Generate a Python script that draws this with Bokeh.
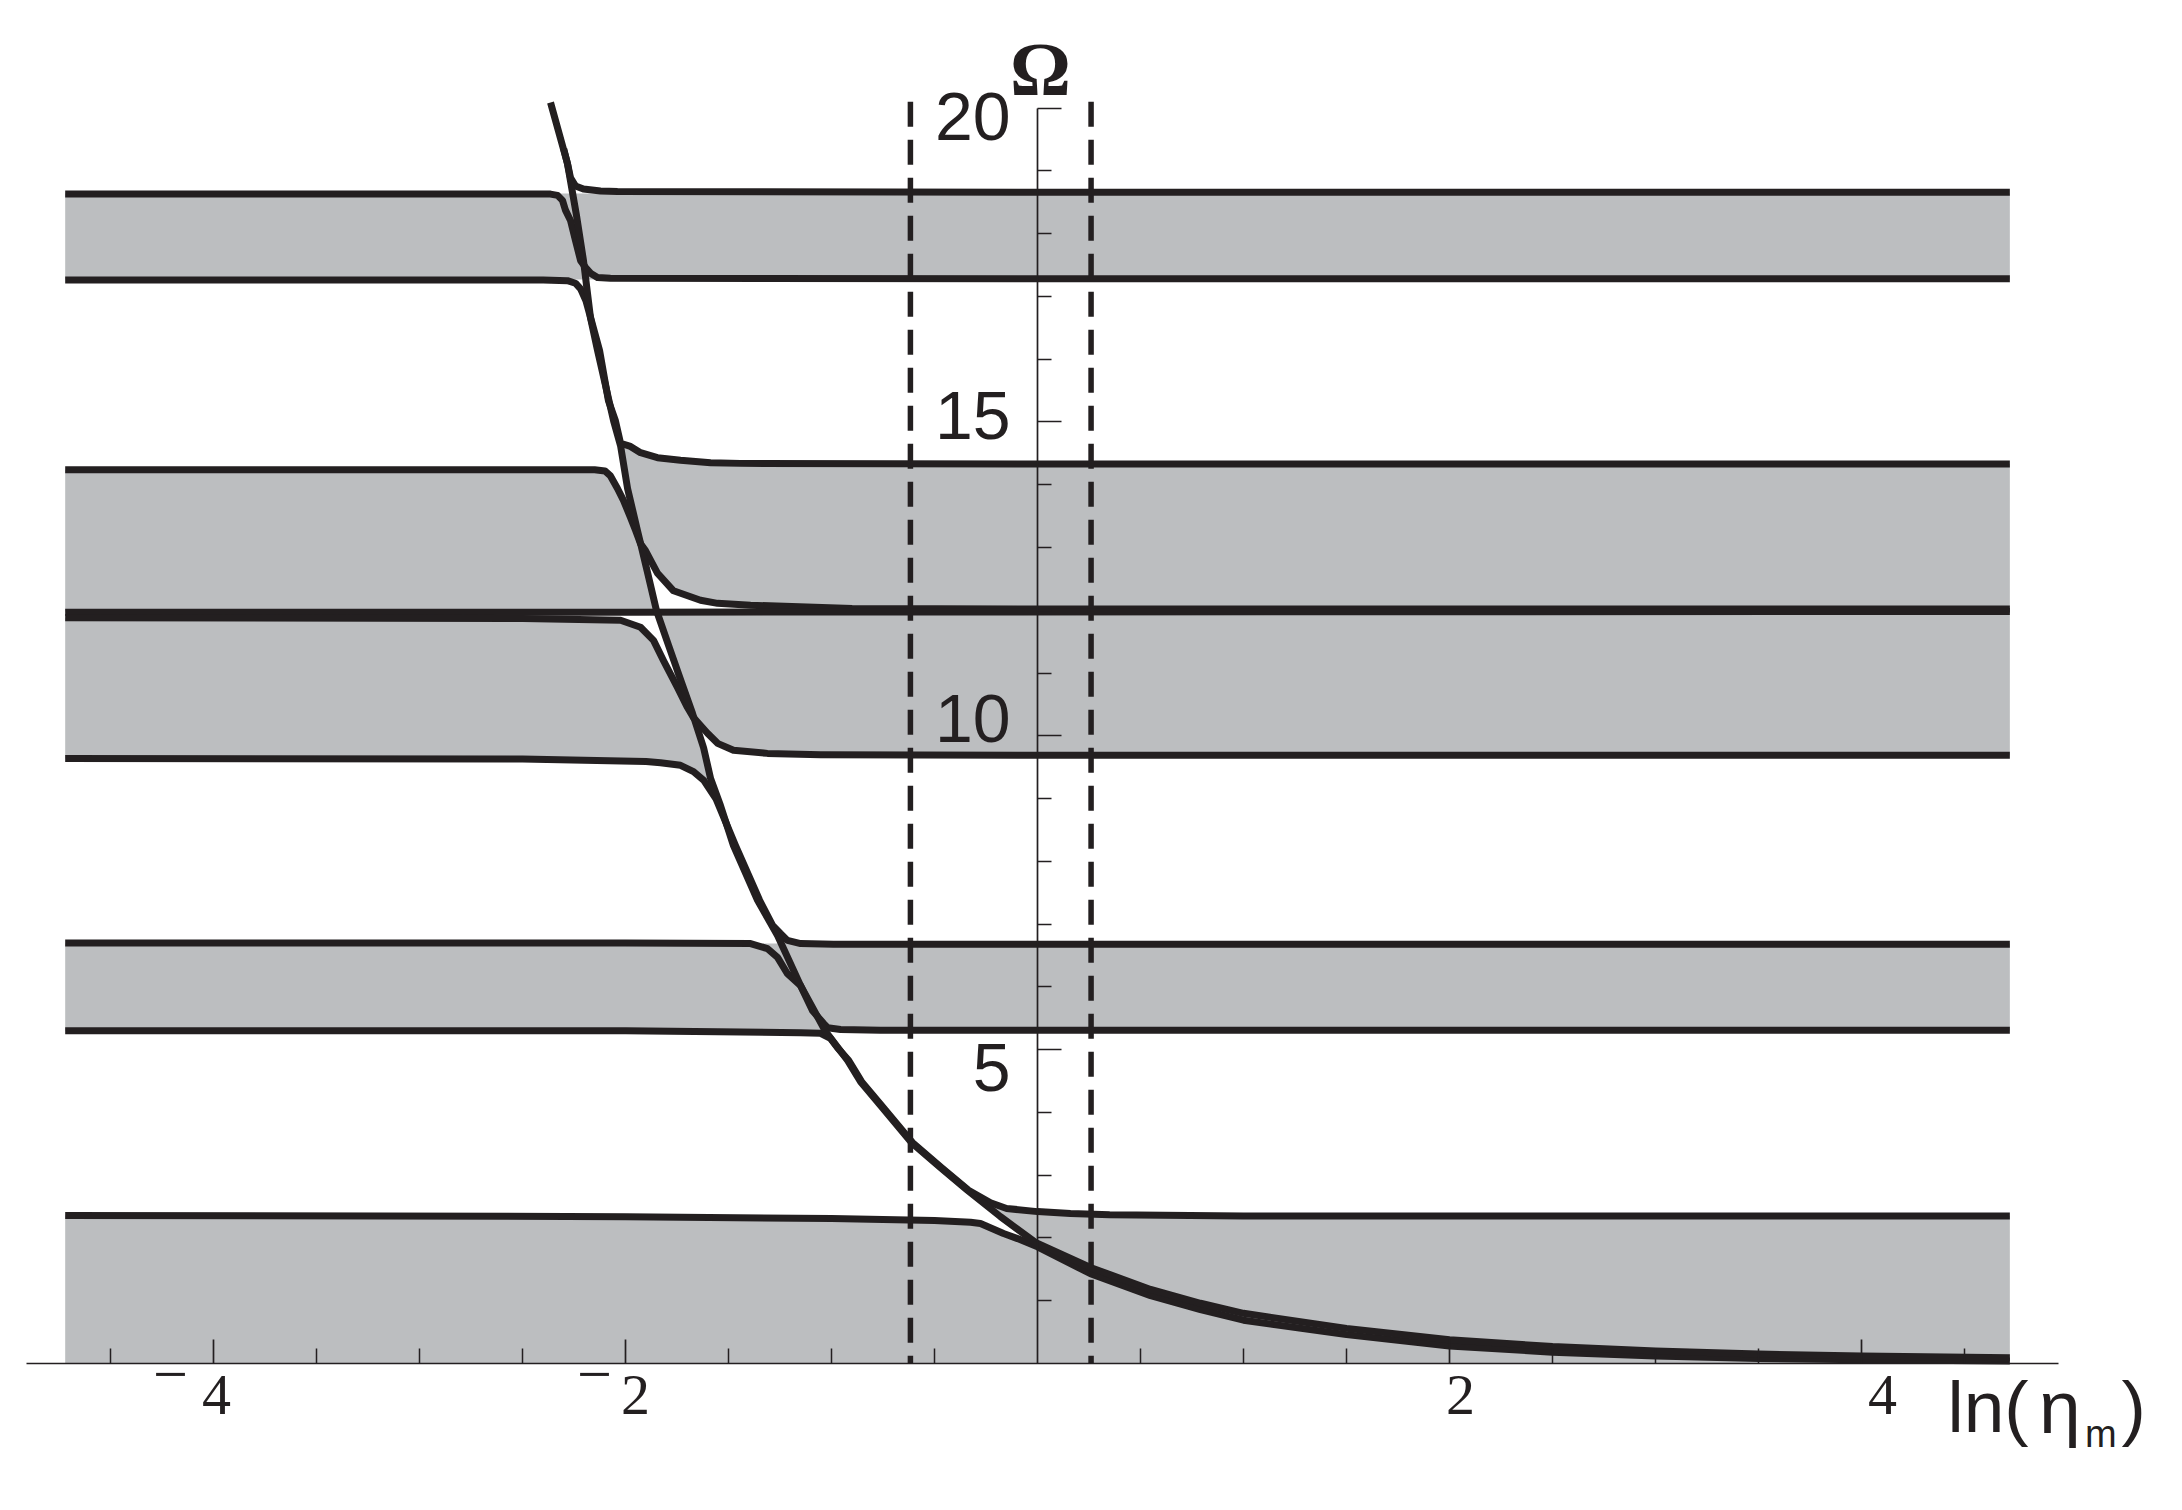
from bokeh.plotting import figure
from bokeh.models import LinearAxis, FixedTicker, Label, ColumnDataSource
from bokeh.embed import file_html
from bokeh.resources import INLINE
from bokeh.core.properties import value

INK = "#231f20"
GRAY = "#bcbec0"

# ---------------- data ----------------
x_major_ticks = [-4, -2, 2, 4]
x_label_digits = ["4", "2", "2", "4"]
x_negative_ticks = [-4, -2]
x_minor_ticks = [-4.5, -3.5, -3, -2.5, -1.5, -1, -0.5, 0.5, 1, 1.5, 2.5, 3, 3.5, 4.5]
y_major_ticks = [5, 10, 15, 20]
y_major_labels = ["5", "10", "15", "20"]
y_minor_ticks = [1, 2, 3, 4, 6, 7, 8, 9, 11, 12, 13, 14, 16, 17, 18, 19]

dash_x = [-0.617, 0.26]
dash_top = [20.1, 20.1]
dash_bottom = [0.0, 0.0]

# steep curve (trunk)
trunk_x = [-2.364, -2.282, -2.238, -2.204, -2.170, -2.136, -2.097, -2.058, -2.024, -1.990,
           -1.942, -1.893, -1.850, -1.791, -1.728, -1.675, -1.621, -1.587, -1.539, -1.476,
           -1.359, -1.262, -1.150, -1.029, -0.922, -0.859, -0.762, -0.612, -0.471, -0.340,
           -0.180, -0.010, 0.257, 0.549, 0.791, 1.0, 1.5, 2.0, 2.5, 3.0, 3.5, 4.0, 4.72]
trunk_y = [20.09, 19.12, 18.29, 17.57, 16.66, 16.14, 15.58, 15.02, 14.62, 13.94,
           13.27, 12.60, 12.00, 11.44, 10.85, 10.36, 9.81, 9.32, 8.89, 8.25,
           7.38, 6.82, 6.02, 5.29, 4.83, 4.49, 4.11, 3.52, 3.12, 2.76,
           2.34, 1.93, 1.53, 1.18, 0.96, 0.80, 0.56, 0.38, 0.27, 0.20, 0.15, 0.12, 0.09]

# band edges
e0_x = [-2.300, -2.282, -2.267, -2.243, -2.204, -2.121, -2.039, 0.0, 4.72]
e0_y = [19.35, 19.12, 18.89, 18.76, 18.71, 18.68, 18.67, 18.66, 18.66]

e1_x = [-4.72, -2.50, -2.364, -2.330, -2.306, -2.291, -2.267, -2.243, -2.218, -2.194,
        -2.170, -2.136, -2.073, 0.0, 4.72]
e1_y = [18.63, 18.63, 18.63, 18.61, 18.53, 18.37, 18.21, 17.89, 17.57, 17.46,
        17.37, 17.30, 17.29, 17.28, 17.28]

e2_x = [-4.72, -2.40, -2.282, -2.243, -2.218, -2.192, -2.126, -2.083, -2.049, -2.024,
        -1.976, -1.927, -1.845, -1.733, -1.587, -1.442, 0.0, 4.72]
e2_y = [17.26, 17.26, 17.25, 17.21, 17.12, 16.93, 16.14, 15.34, 15.02, 14.66,
        14.61, 14.51, 14.43, 14.39, 14.35, 14.34, 14.33, 14.33]

e3_x = [-4.72, -2.15, -2.10, -2.073, -2.039, -2.010, -1.976, -1.951, -1.927, -1.903,
        -1.845, -1.767, -1.636, -1.553, -1.393, -0.90, 0.0, 4.72]
e3_y = [14.24, 14.24, 14.22, 14.14, 13.94, 13.75, 13.48, 13.27, 13.06, 12.95,
        12.59, 12.31, 12.16, 12.11, 12.08, 12.03, 12.02, 12.02]

l12_x = [-4.72, -2.0, 4.72]
l12_y = [11.97, 11.97, 11.98]

e5_x = [-4.72, -2.50, -2.024, -1.927, -1.864, -1.816, -1.748, -1.699, -1.670, -1.602,
        -1.553, -1.476, -1.311, -1.053, 0.0, 4.72]
e5_y = [11.88, 11.87, 11.84, 11.73, 11.52, 11.20, 10.77, 10.45, 10.29, 10.04,
        9.88, 9.77, 9.72, 9.70, 9.69, 9.69]

e6_x = [-4.72, -2.50, -1.90, -1.830, -1.733, -1.670, -1.620, -1.560, -1.466, -1.349,
        -1.286, -1.248, -1.214, -1.150, -0.990, 0.0, 4.72]
e6_y = [9.64, 9.63, 9.59, 9.57, 9.53, 9.43, 9.29, 8.99, 8.25, 7.38,
        6.98, 6.85, 6.74, 6.69, 6.68, 6.68, 6.68]

e7_x = [-4.72, -2.0, -1.393, -1.311, -1.262, -1.214, -1.150, -1.092, -1.039, -1.019,
        -0.956, -0.762, 0.0, 4.72]
e7_y = [6.70, 6.70, 6.69, 6.61, 6.47, 6.21, 6.02, 5.62, 5.42, 5.35,
        5.32, 5.31, 5.31, 5.31]

e8_x = [-4.72, -2.0, -1.150, -1.053, -1.005, -0.971, -0.917, -0.854, -0.757, -0.607,
        -0.466, -0.335, -0.228, -0.15, 0.0, 0.16, 0.35, 1.0, 4.72]
e8_y = [5.30, 5.30, 5.27, 5.26, 5.18, 5.03, 4.83, 4.49, 4.11, 3.52,
        3.12, 2.76, 2.56, 2.47, 2.42, 2.39, 2.37, 2.35, 2.35]

e9_x = [-4.72, -2.0, -1.0, -0.50, -0.325, -0.277, -0.165, -0.097, 0.0, 0.257,
        0.549, 0.791, 1.0, 1.5, 2.0, 2.5, 3.0, 3.5, 4.0, 4.72]
e9_y = [2.36, 2.34, 2.31, 2.28, 2.25, 2.23, 2.07, 1.99, 1.86, 1.43,
        1.08, 0.86, 0.69, 0.46, 0.28, 0.18, 0.12, 0.08, 0.06, 0.04]

# gray bands
rect_left = [-4.72, -4.72]
rect_right = [4.72, 4.72]
rect_bottom = [17.27, 5.30]
rect_top = [18.64, 6.69]

g2l_x = [-4.72, -1.850, -1.893, -1.942, -1.976, -2.010, -2.039, -2.073, -2.10, -2.15, -4.72]
g2l_y = [11.98, 11.98, 12.60, 13.27, 13.48, 13.75, 13.94, 14.14, 14.22, 14.24, 14.24]

g2r_x = [-1.903, -1.942, -1.990, -2.024, -1.976, -1.927, -1.845, -1.733, -1.587, -1.442,
         4.72, 4.72, -0.90, -1.393, -1.553, -1.636, -1.767, -1.845]
g2r_y = [12.95, 13.27, 13.94, 14.66, 14.61, 14.51, 14.43, 14.39, 14.35, 14.34,
         14.33, 11.98, 11.98, 12.08, 12.11, 12.16, 12.31, 12.59]

g3_x = [-4.72, -2.50, -1.90, -1.830, -1.733, -1.670, -1.620, -1.587, -1.621, -1.670,
        -1.602, -1.553, -1.476, -1.311, -1.053, 4.72, 4.72, -1.850, -1.791, -1.748,
        -1.816, -1.864, -1.927, -2.024, -2.50, -4.72]
g3_y = [9.64, 9.63, 9.59, 9.57, 9.53, 9.43, 9.29, 9.32, 9.81, 10.29,
        10.04, 9.88, 9.77, 9.72, 9.70, 9.69, 11.98, 11.98, 11.44, 10.77,
        11.20, 11.52, 11.73, 11.84, 11.87, 11.88]

g5_x = [-4.72, 4.72, 4.72, 1.0, 0.35, 0.16, 0.0, -0.15, -0.228, -0.30,
        -0.180, -0.05, -0.097, -0.165, -0.277, -0.325, -0.50, -1.0, -2.0, -4.72]
g5_y = [0.0, 0.0, 2.35, 2.35, 2.37, 2.39, 2.42, 2.47, 2.56, 2.66,
        2.34, 2.02, 1.99, 2.07, 2.23, 2.25, 2.28, 2.31, 2.34, 2.36]

# ---------------- figure ----------------
p = figure(width=2176, height=1504, x_range=(-5.034, 5.529), y_range=(-2.246, 21.714),
           output_backend="svg", toolbar_location=None,
           x_axis_location=None, y_axis_location=None,
           min_border_left=0, min_border_right=0, min_border_top=0, min_border_bottom=0)
p.outline_line_color = None
p.background_fill_color = "white"
p.border_fill_color = "white"
for g in p.grid:
    g.visible = False

# gray fills
p.quad(left=rect_left, right=rect_right, bottom=rect_bottom, top=rect_top,
       fill_color=GRAY, line_color=None)
p.patches(xs=[g2l_x, g2r_x, g3_x, g5_x], ys=[g2l_y, g2r_y, g3_y, g5_y],
          fill_color=GRAY, line_color=None)

# dashed verticals
p.segment(x0=dash_x, y0=dash_top, x1=dash_x, y1=dash_bottom,
          line_color=INK, line_width=5.5, line_dash="25 13")

# curves
edges_x = [e0_x, e1_x, e2_x, e3_x, l12_x, e5_x, e6_x, e7_x, e8_x, e9_x, trunk_x]
edges_y = [e0_y, e1_y, e2_y, e3_y, l12_y, e5_y, e6_y, e7_y, e8_y, e9_y, trunk_y]
p.multi_line(xs=edges_x, ys=edges_y, line_color=INK, line_width=7, line_join="round")


def style_axis(ax, tick_in, minor_in):
    ax.axis_line_color = INK
    ax.axis_line_width = 1.7
    ax.major_tick_line_color = INK
    ax.major_tick_line_width = 1.7
    ax.minor_tick_line_color = INK
    ax.minor_tick_line_width = 1.5
    ax.major_tick_in = tick_in
    ax.major_tick_out = 0
    ax.minor_tick_in = minor_in
    ax.minor_tick_out = 0
    ax.major_label_standoff = 0
    ax.major_label_text_font_size = "2px"
    ax.major_label_text_alpha = 0


# x axis drawn at y = 0
xaxis = LinearAxis(ticker=FixedTicker(ticks=x_major_ticks, minor_ticks=x_minor_ticks),
                   fixed_location=0, bounds=(-4.908, 4.956))
style_axis(xaxis, 24, 15)
p.add_layout(xaxis, "below")

# y axis drawn at x = 0
yaxis = LinearAxis(ticker=FixedTicker(ticks=y_major_ticks, minor_ticks=y_minor_ticks),
                   fixed_location=0, bounds=(0, 20))
style_axis(yaxis, 24, 14)
p.add_layout(yaxis, "left")

# x tick labels (digits, and raised minus signs for negatives)
xlab_src = ColumnDataSource(dict(x=x_major_ticks, y=[0] * len(x_major_ticks),
                                 text=x_label_digits, dx=[3, 10, 11, 21]))
p.text(x="x", y="y", text="text", source=xlab_src, x_offset="dx", y_offset=31,
       text_align="center", text_baseline="alphabetic",
       text_font=value("Liberation Serif"), text_font_size=value("58px"), text_color=INK)
xminus_src = ColumnDataSource(dict(x=x_negative_ticks, y=[0] * len(x_negative_ticks),
                                   text=["\u2212"] * len(x_negative_ticks), dx=[-43, -31]))
p.text(x="x", y="y", text="text", source=xminus_src, x_offset="dx", y_offset=11,
       text_align="center", text_baseline="alphabetic",
       text_font=value("Liberation Serif"), text_font_size=value("62px"), text_color=INK)

# y tick labels (beside the axis at x = 0)
ylab_src = ColumnDataSource(dict(x=[0] * len(y_major_ticks), y=y_major_ticks,
                                 text=y_major_labels, dy=[18, -17, -6.5, 8.5]))
p.text(x="x", y="y", text="text", source=ylab_src, x_offset=-27, y_offset="dy",
       text_align="right", text_baseline="alphabetic",
       text_font=value("Liberation Sans"), text_font_size=value("68px"), text_color=INK)

# axis titles
p.add_layout(Label(x=0, y=20.62, text="\u03a9", x_offset=3, text_align="center",
                   text_baseline="alphabetic", text_font="Liberation Serif",
                   text_font_style="bold", text_font_size="76px", text_color=INK))
p.add_layout(Label(x=4.417, y=-0.69, text="ln(", text_align="left",
                   text_baseline="alphabetic", text_font="Liberation Sans",
                   text_font_size="73px", text_color=INK))
p.add_layout(Label(x=4.862, y=-0.69, text="\u03b7", text_align="left",
                   text_baseline="alphabetic", text_font="Liberation Sans",
                   text_font_size="75px", text_color=INK))
p.add_layout(Label(x=5.085, y=-1.12, text="m", text_align="left",
                   text_baseline="alphabetic", text_font="Liberation Sans",
                   text_font_size="38px", text_color=INK))
p.add_layout(Label(x=5.262, y=-0.69, text=")", text_align="left",
                   text_baseline="alphabetic", text_font="Liberation Sans",
                   text_font_size="73px", text_color=INK))

open("out.html", "w").write(file_html(p, INLINE))
